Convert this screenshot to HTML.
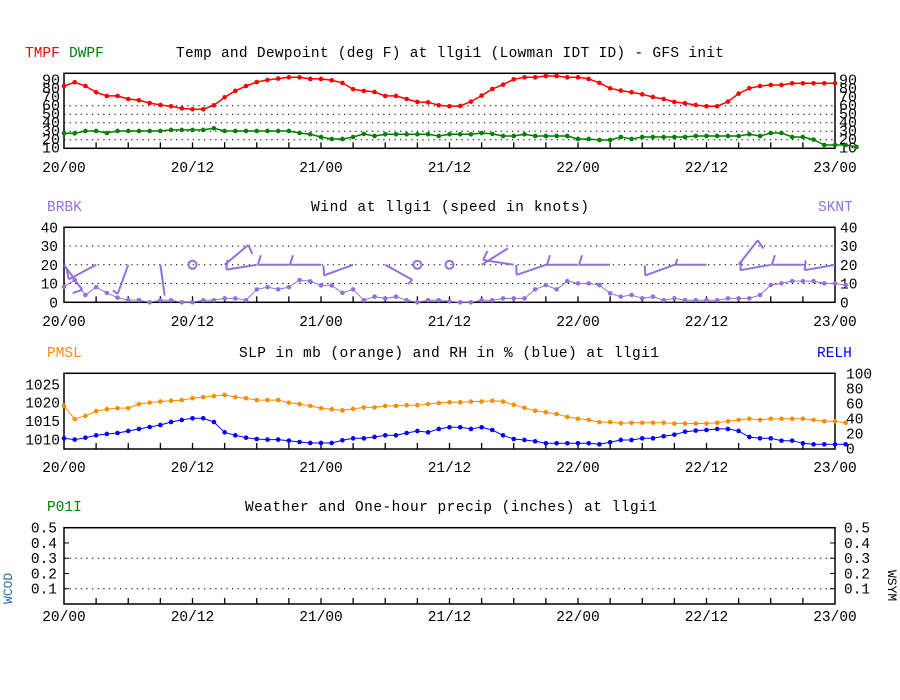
<!DOCTYPE html>
<html><head><meta charset="utf-8"><style>
html,body{margin:0;padding:0;background:#fff;}
svg{display:block;font-family:"Liberation Mono",monospace;}
</style></head><body>
<svg id="c" width="900" height="700" viewBox="0 0 900 700" xmlns="http://www.w3.org/2000/svg">
<rect width="900" height="700" fill="#fff"/>
<text x="25" y="57" font-size="14.5" fill="#ff0000">TMPF</text>
<text x="69" y="57" font-size="14.5" fill="#008000">DWPF</text>
<text x="176" y="57" font-size="14.5" textLength="548" fill="#000">Temp and Dewpoint (deg F) at llgi1 (Lowman IDT ID) - GFS init</text>
<text x="47" y="211" font-size="14.5" fill="#9370db">BRBK</text>
<text x="818" y="211" font-size="14.5" fill="#9370db">SKNT</text>
<text x="311" y="211" font-size="14.5" textLength="278" fill="#000">Wind at  llgi1 (speed in knots)</text>
<text x="47" y="357" font-size="14.5" fill="#ff8c00">PMSL</text>
<text x="817" y="357" font-size="14.5" fill="#0000ff">RELH</text>
<text x="239" y="357" font-size="14.5" textLength="420" fill="#000">SLP in mb (orange) and RH in % (blue) at  llgi1</text>
<text x="47" y="511" font-size="14.5" fill="#008000">P01I</text>
<text x="245" y="511" font-size="14.5" textLength="412" fill="#000">Weather and One-hour precip (inches) at  llgi1</text>
<text transform="translate(12,604) rotate(-90)" font-size="13" fill="#1f6fb2">WCOD</text>
<text transform="translate(888,570) rotate(90)" font-size="13" fill="#000">WSYM</text>
<g id="g"></g>
</svg>
<script>
// ---- data (hourly, 20/00 .. 23/00) ----
const xTickLabels = ["20/00","20/12","21/00","21/12","22/00","22/12","23/00"];
const tmpf = [83.3,87.7,83.3,75.9,71.6,71.6,68,66.5,63.3,61,59.4,57,55.9,55.9,60.6,70,77.5,83.3,88,90.4,92,93.5,93.5,91.6,91.6,90,86.9,79.4,77.5,76.3,71.6,71.6,68,64.5,64.1,60.6,59.4,
 59.8,64.9,72,79.8,84.9,91.2,93.5,93.5,95.1,95.1,93.5,93.5,91.6,86.9,80.6,77.9,75.9,73.5,70.4,68,64.5,63,61,59.4,59.4,64.9,74.3,80.6,83.3,84.5,84.5,86.5,86.5,86.5,86.5,86.5];
const dwpf = [27.6,27.6,30.4,30.4,28,30.4,30.4,30.4,30.4,30.4,31.6,31.6,31.6,31.6,33.5,30.4,30.4,30.4,30.4,30.4,30.4,30.4,28,26.5,23.3,21,21,23.3,26.9,24.5,26.5,26.5,26.5,26.5,26.5,24.5,26.5,
 26.5,26.5,28,26.9,24.5,24.5,26.5,24.5,24.5,24.5,24.5,21,21,19.8,19.8,23.3,21,23.3,23.3,23.3,23.3,23.3,24.5,24.5,24.5,24.5,24.5,26.5,24.5,28,28,23.3,23.3,20.2,13.9,13.9,13.9,11.6];
const sknt = [8.3,11.9,3.9,8.1,5,2.5,1.2,1.2,0,1.1,1.1,0,0,1.1,1.1,2.1,2.1,1.1,6.9,8.1,6.9,8.1,11.9,11.2,9,9,5,6.9,1.1,3,2.1,3,1.1,0,1.1,1.1,0.5,
 0,0,1.1,1.1,2.1,2.1,2.1,6.9,9.2,6.9,11.3,10.1,10.1,9.2,4.8,3,3.9,2.1,3,1.1,2.1,1.1,1.1,1.1,1.1,2.1,2.1,2.1,3.9,9.2,10.1,11.3,11.3,11.3,10.1,10.1,9.2];
const barbHours = [0,3,6,9,12,15,18,21,24,27,30,33,36,39,42,45,48,51,57,60,63,66,69,72];
const barbAngles = [54,152,110,82,0,-40,171,180,180,160,29,0,0,-32,189,161,180,180,160,180,-52,170,180,170];
const barbSpeeds = [8,12,5,2,0,12,8,12,10,9,5,0,0,3,8,10,11,10,9,6,12,10,11,10];
const pmsl = [1019.1,1015.5,1016.4,1017.7,1018.2,1018.5,1018.5,1019.6,1020,1020.3,1020.5,1020.7,1021.2,1021.5,1021.8,1022.1,1021.5,1021.2,1020.7,1020.7,1020.7,1020,1019.6,1019.1,1018.5,1018.2,1017.9,1018.3,1018.7,1018.7,1019.1,1019.1,1019.3,1019.3,1019.6,1019.9,1020.1,
 1020.1,1020.3,1020.3,1020.5,1020.3,1019.4,1018.6,1017.8,1017.4,1016.9,1016.1,1015.6,1015.3,1014.7,1014.7,1014.4,1014.5,1014.5,1014.5,1014.5,1014.3,1014.3,1014.3,1014.3,1014.5,1014.9,1015.3,1015.6,1015.3,1015.6,1015.6,1015.6,1015.6,1015.3,1014.9,1014.9,1014.5];
const relh = [13.3,11.6,14.2,17.3,19.1,20.4,23.1,25.8,28.4,31.1,35.1,37.8,40,40,35.1,21.3,17.3,14.2,12.4,11.6,11.6,10.2,8.4,7.1,7.1,7.1,10.7,13.3,13.3,15.1,17.3,17.3,20.4,23.1,21.3,25.8,28,
 28,25.8,28,24.4,17.3,12.4,11.1,9.3,6.7,6.7,6.7,6.7,6.7,5.3,8,11.1,11.1,13.3,13.3,16,18.2,22.2,23.6,24.4,25.8,25.8,23.1,15.1,13.3,13.3,10.2,10.2,6.7,5.3,5.3,5.3,5.3];
const tempTicks = [90,80,70,60,50,40,30,20,10];
const windTicks = [40,30,20,10,0];
const slpTicks = [1025,1020,1015,1010];
const rhTicks = [100,80,60,40,20,0];
const precipTicks = [0.5,0.4,0.3,0.2,0.1];

const NS="http://www.w3.org/2000/svg";
const G=document.getElementById('g');
const X0=64,X1=835;
const xH=h=>X0+(X1-X0)*h/72;
function el(tag,attrs,parent){const e=document.createElementNS(NS,tag);for(const k in attrs)e.setAttribute(k,attrs[k]);(parent||G).appendChild(e);return e;}

function panel(name,top,bot,tickLblY){
  const g=el('g',{});
  
  
  const r=el('rect',{x:X0,y:top,width:X1-X0,height:bot-top,fill:'none',stroke:'#000','stroke-width':1.5},g);
  
  
  for(let h=3;h<72;h+=3){
    const t=el('line',{x1:xH(h),x2:xH(h),y1:bot,y2:bot-6,stroke:'#000','stroke-width':1.3},g);
    
    
  }
  xTickLabels.forEach((s,i)=>{
    const t=el('text',{x:xH(i*12),y:tickLblY,'font-size':14.5,'text-anchor':'middle',fill:'#000'},g);
    t.textContent=s;
    
    
  });
  return g;
}
function grid(g,y){const d=el('line',{x1:X0,x2:X1,y1:y,y2:y,stroke:'#000','stroke-width':1,'stroke-dasharray':'1.3,4.3'},g);
  
  }
function yLabel(g,x,y,s,anchor,fs,name){const t=el('text',{x:x,y:y+5,'font-size':fs||14.5,'text-anchor':anchor,fill:'#000'},g);t.textContent=s;
  
  }
function series(g,vals,yf,color,name,lw){
  const pts=vals.map((v,i)=>xH(i).toFixed(1)+','+yf(v).toFixed(1)).join(' ');
  const p=el('polyline',{points:pts,fill:'none',stroke:color,'stroke-width':lw||1.3},g);
  
  
  vals.forEach((v,i)=>{
    const c=el('circle',{cx:xH(i),cy:yf(v),r:2.3,fill:color},g);
    
    
  });
}

// Panel 1 temp
{
  const top=73.3,bot=148.3;
  const g=panel('temp',top,bot,172);
  const yT=v=>bot-(v-10)*0.85;
  [20,30,40,50,60].forEach(v=>grid(g,yT(v)));
  tempTicks.forEach(v=>{yLabel(g,60,yT(v)-1,String(v),'end',15,'temp-y-label-left');yLabel(g,839,yT(v)-1,String(v),'start',15,'temp-y-label-right');});
  series(g,tmpf,yT,'#ff0000','tmpf',1.5);
  series(g,dwpf,yT,'#008000','dwpf',1.5);
}
// Panel 2 wind
{
  const top=227.3,bot=302.3;
  const g=panel('wind',top,bot,326);
  const yW=v=>bot-v*1.875;
  [10,20,30].forEach(v=>grid(g,yW(v)));
  windTicks.forEach(v=>{yLabel(g,58,yW(v),String(v),'end',14.5,'wind-y-label-left');yLabel(g,840,yW(v),String(v),'start',14.5,'wind-y-label-right');});
  series(g,sknt,yW,'#9370db','sknt',1);
  const sy=yW(20);
  barbHours.forEach((h,i)=>{
    const x=xH(h),sp=barbSpeeds[i],a=barbAngles[i]*Math.PI/180;
    if(sp<=1){const c=el('circle',{cx:x,cy:sy,r:4,fill:'none',stroke:'#9370db','stroke-width':2},g);
      
      return;}
    const ex=x+31*Math.cos(a),ey=sy+31*Math.sin(a);
    const s=el('line',{x1:x,y1:sy,x2:ex,y2:ey,stroke:'#9370db','stroke-width':2},g);
    
    
    if(sp>=5){const L=sp>=8?10:6;const pa=a+Math.PI/2+0.3;
      const b=el('line',{x1:ex,y1:ey,x2:ex+L*Math.cos(pa),y2:ey+L*Math.sin(pa),stroke:'#9370db','stroke-width':2},g);
      
      }
  });
}
// Panel 3 slp/rh
{
  const top=373.3,bot=449;
  const g=panel('slp',top,bot,472);
  const yP=v=>439.3-(v-1010)*3.667;
  const yR=v=>448.3-v*0.75;
  slpTicks.forEach(v=>yLabel(g,60,yP(v),String(v),'end',14.5,'slp-y-label'));
  rhTicks.forEach(v=>yLabel(g,846,yR(v),String(v),'start',14.5,'rh-y-label'));
  series(g,pmsl,yP,'#ff8c00','pmsl',1);
  series(g,relh,yR,'#0000ff','relh',1);
}
// Panel 4 precip
{
  const top=527.7,bot=604;
  const g=panel('precip',top,bot,621);
  const yQ=v=>bot-v*152.6;
  [0.1,0.3].forEach(v=>grid(g,yQ(v)));
  precipTicks.forEach(v=>{
    yLabel(g,57,yQ(v),v.toFixed(1),'end',14.5,'precip-y-label-left');
    yLabel(g,844,yQ(v),v.toFixed(1),'start',14.5,'precip-y-label-right');
    const a=el('line',{x1:X0,x2:X0+5,y1:yQ(v),y2:yQ(v),stroke:'#000'},g);
    
    
    const b=el('line',{x1:X1-5,x2:X1,y1:yQ(v),y2:yQ(v),stroke:'#000'},g);
    
    
  });
}
</script>
</body></html>
